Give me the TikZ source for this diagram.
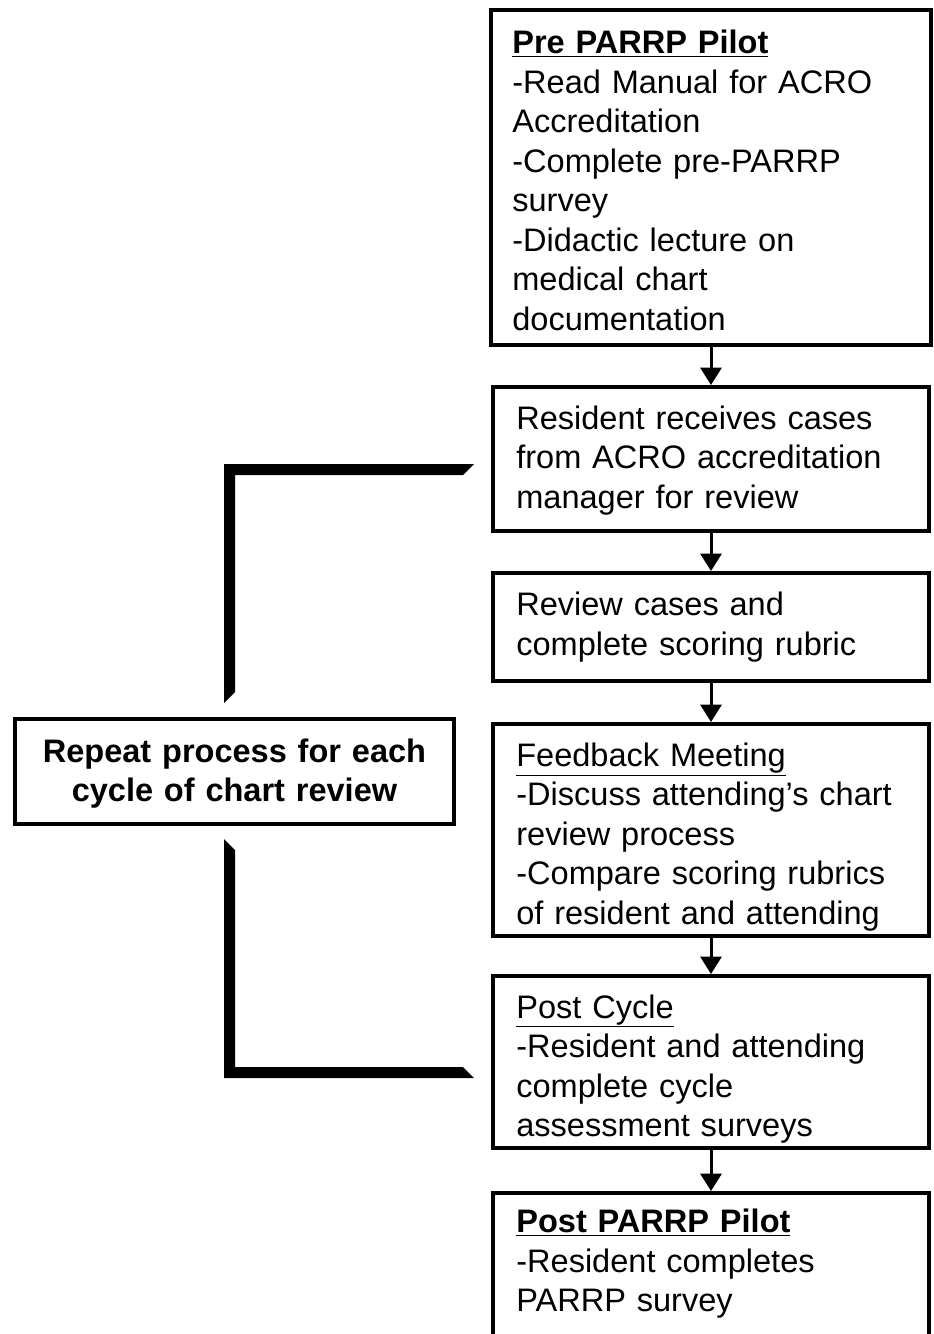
\documentclass[tikz,border=0pt]{standalone}
\usepackage{fontspec}
\setmainfont{Liberation Sans}
\usetikzlibrary{arrows.meta}
\begin{document}
\begin{tikzpicture}[x=0.75pt, y=-0.75pt,
    stage/.style = {draw, line width=3pt, align=left, text width=292pt, inner xsep=17.5pt,
      minimum width=327pt, font=\fontsize{24.4pt}{29.6pt}\selectfont},
    repeatbox/.style = {draw, line width=3pt, align=center, text width=310pt, text height=21pt,
      minimum width=329.25pt, minimum height=78.75pt, font=\bfseries\fontsize{24.4pt}{29.2pt}\selectfont},
    flow/.style = {line width=2.25pt, -{Triangle[width=15.75pt, length=13pt]}}]
    \useasboundingbox (0,0) rectangle (933,1334);
    % right column of stages
    \node[stage, text width=298pt, inner xsep=16pt, minimum width=330pt, minimum height=251.25pt, text height=22pt] (pre) at (711,177.5)
        {\textbf{\underline{Pre PARRP Pilot}}\\ -Read Manual for ACRO\\ Accreditation\\ -Complete pre-PARRP\\ survey\\ -Didactic lecture on\\ medical chart\\ documentation};
    \node[stage, minimum height=108pt, text height=19.5pt] (receive) at (711,459)
        {Resident receives cases\\ from ACRO accreditation\\ manager for review};
    \node[stage, minimum height=81pt] (score) at (711,627)
        {Review cases and\\ complete scoring rubric};
    \node[stage, minimum height=159pt, text height=28pt] (feedback) at (711,830)
        {\underline{Feedback Meeting}\\ -Discuss attending's chart\\ review process\\ -Compare scoring rubrics\\ of resident and attending};
    \node[stage, minimum height=129pt, text height=28pt] (cycle) at (711,1062)
        {\underline{Post Cycle}\\ -Resident and attending\\ complete cycle\\ assessment surveys};
    \node[stage, anchor=north, inner ysep=12pt, text depth=150pt] (post) at (711,1191)
        {\textbf{\underline{Post PARRP Pilot}}\\ -Resident completes\\ PARRP survey};
    % left loop
    \node[repeatbox] (repeat) at (234.5,771.5) {Repeat process for each\\ cycle of chart review};
    \fill (224,464) -- (474,464) -- (463,475) -- (235,475) -- (235,692) -- (224,703) -- cycle;
    \fill (224,839) -- (235,850) -- (235,1067) -- (463,1067) -- (474,1078) -- (224,1078) -- cycle;
    \draw[flow] (pre) -- (receive);
    \draw[flow] (receive) -- (score);
    \draw[flow] (score) -- (feedback);
    \draw[flow] (feedback) -- (cycle);
    \draw[flow] (cycle) -- (post);
\end{tikzpicture}
\end{document}
